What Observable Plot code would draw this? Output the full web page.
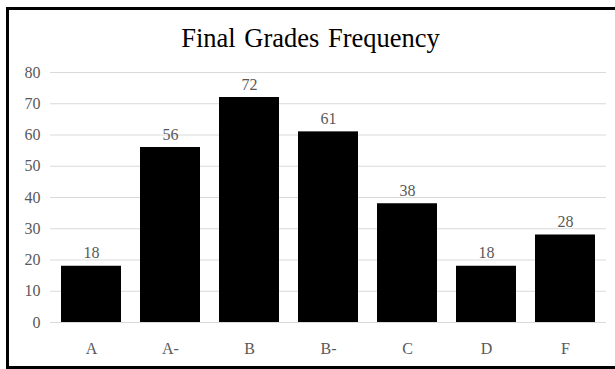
<!DOCTYPE html>
<html>
<head>
<meta charset="utf-8">
<script src="https://cdn.jsdelivr.net/npm/d3@7"></script>
<script src="https://cdn.jsdelivr.net/npm/@observablehq/plot@0.6"></script>
<style>
  html, body { margin: 0; padding: 0; background: #fff; overflow: hidden; }
  #wrap { position: relative; width: 615px; height: 369px; overflow: hidden; }
  #frame { position: absolute; left: 6px; top: 7px; width: 609px; height: 357px; border-left: 3px solid #000; border-top: 3px solid #000; border-bottom: 3px solid #000; box-sizing: border-box; height: 362px; pointer-events: none; }
  #title { position: absolute; left: 6px; width: 609px; top: 23px; text-align: center;
           font-family: "Liberation Serif", "Times New Roman", serif; font-size: 26.5px; color: #000; word-spacing: 2px; }
  #chart { position: absolute; left: 0; top: 0; }
</style>
</head>
<body>
<div id="wrap">
  <div id="chart"></div>
  <div id="title">Final Grades Frequency</div>
  <div id="frame"></div>
</div>
<script>
const grades = ["A", "A-", "B", "B-", "C", "D", "F"];
const counts = [18, 56, 72, 61, 38, 18, 28];
const yTicks = [0, 10, 20, 30, 40, 50, 60, 70, 80];

const data = grades.map((g, i) => ({grade: g, count: counts[i]}));
const font = '"Liberation Serif", "Times New Roman", serif';

const chart = Plot.plot({
  width: 615,
  height: 369,
  marginLeft: 50,
  marginRight: 9,
  marginTop: 72,
  marginBottom: 47,
  style: {fontFamily: font, fontSize: "16px", color: "#595959", background: "transparent"},
  x: {domain: grades, paddingInner: 0.245, paddingOuter: 0.1225, label: null},
  y: {domain: [0, 80], ticks: yTicks, label: null},
  marks: [
    Plot.ruleY(yTicks, {stroke: "#d9d9d9", strokeWidth: 1}),
    Plot.barY(data, {x: "grade", y: "count", fill: "#000"}),
    Plot.text(data, {x: "grade", y: "count", text: d => String(d.count), dy: -13, fill: "#595959", fontSize: 16, fontFamily: font}),
    Plot.axisX({tickSize: 0, tickPadding: 20, fill: "#595959", fontSize: 16, fontFamily: font, label: null}),
    Plot.axisY({ticks: yTicks, tickSize: 0, tickPadding: 10, fill: "#595959", fontSize: 16, fontFamily: font, label: null})
  ]
});
document.getElementById("chart").appendChild(chart);
</script>
</body>
</html>
